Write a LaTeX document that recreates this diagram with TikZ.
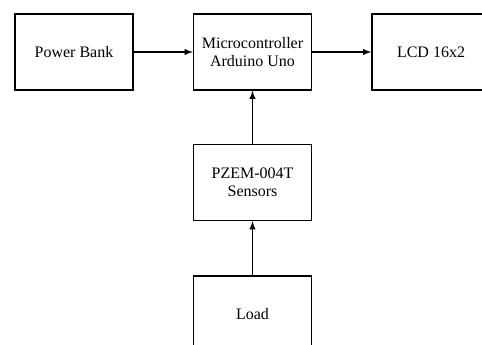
\documentclass[tikz,border=0pt]{standalone}
\usepackage{fontspec}
\setmainfont{Liberation Serif}
\usepackage{tikz}
\usetikzlibrary{arrows}

\begin{document}
\begin{tikzpicture}[x=0.75pt, y=-0.75pt,
    block/.style = {draw, line width=1.1pt, minimum width=88.5pt, minimum height=57pt,
                    align=center, font=\fontsize{12}{13.8}\selectfont},
    link/.style = {line width=1.1pt, -latex}]
  \clip (0,0) rectangle (482,345);

  \node[block] (bank) at (74,52) {Power Bank};
  \node[block] (mcu) at (252.5,52) {Microcontroller\\Arduino Uno};
  \node[block] (lcd) at (431,52) {LCD 16x2};
  \node[block] (pzem) at (252.5,182.5) {PZEM-004T\\Sensors};
  \node[block] (load) at (252.5,314) {Load};

    \path[link] (bank) edge (mcu);
    \path[link] (mcu) edge (lcd);
    \path[link] (pzem) edge (mcu);
    \path[link] (load) edge (pzem);

\end{tikzpicture}
\end{document}
